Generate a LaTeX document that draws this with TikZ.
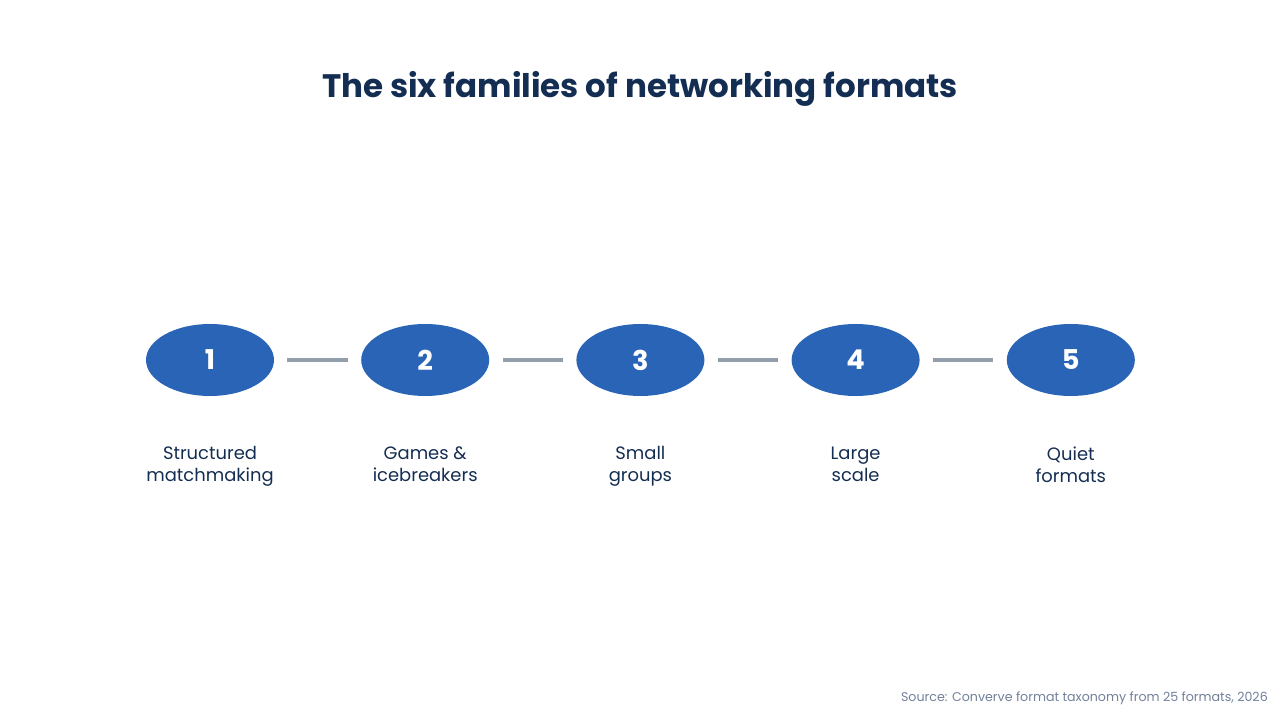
\documentclass[tikz,border=0pt]{standalone}
\usepackage{fontspec}
\setmainfont{Poppins}
\usepackage{xcolor}
\usetikzlibrary{positioning,shapes.geometric}

\definecolor{navy}{HTML}{142D52}
\definecolor{famblue}{HTML}{2A64B6}
\definecolor{linkgray}{HTML}{939EAB}
\definecolor{srcgray}{HTML}{72809A}

\begin{document}
\begin{tikzpicture}[
    node distance=1.73cm,
    family/.style={ellipse, fill=famblue, minimum width=2.56cm, minimum height=1.44cm, inner sep=0pt, text=white, font=\fontsize{15.5}{18}\selectfont\bfseries},
    caption/.style={text=navy, font=\fontsize{10.2}{12.5}\selectfont, align=center, inner sep=0pt},
    link/.style={draw=linkgray, line width=2pt, shorten <=0.26cm, shorten >=0.26cm}
]
    \useasboundingbox (0,0) rectangle (25.6,14.4);

    \node (title) at (12.8,12.62) [text=navy, font=\fontsize{18.5}{22}\selectfont\bfseries] {The six families of networking formats};

    \node (fam1) at (4.2,7.2) [family] {1};
    \node (fam2) [family, right=of fam1] {2};
    \node (fam3) [family, right=of fam2] {3};
    \node (fam4) [family, right=of fam3] {4};
    \node (fam5) [family, right=of fam4] {5};

    \draw [link] (fam1) -- (fam2);
    \draw [link] (fam2) -- (fam3);
    \draw [link] (fam3) -- (fam4);
    \draw [link] (fam4) -- (fam5);

    \node (cap1) [caption, below=1.0cm of fam1] {Structured\\matchmaking};
    \node (cap2) [caption, below=1.0cm of fam2] {Games \&\\icebreakers};
    \node (cap3) [caption, below=1.0cm of fam3] {Small\\groups};
    \node (cap4) [caption, below=1.0cm of fam4] {Large\\scale};
    \node (cap5) [caption, below=1.0cm of fam5] {Quiet\\formats};

    \node (source) at (25.48,0.44) [anchor=east, text=srcgray, font=\fontsize{7.2}{9}\selectfont] {Source: Converve format taxonomy from 25 formats, 2026};
\end{tikzpicture}
\end{document}
